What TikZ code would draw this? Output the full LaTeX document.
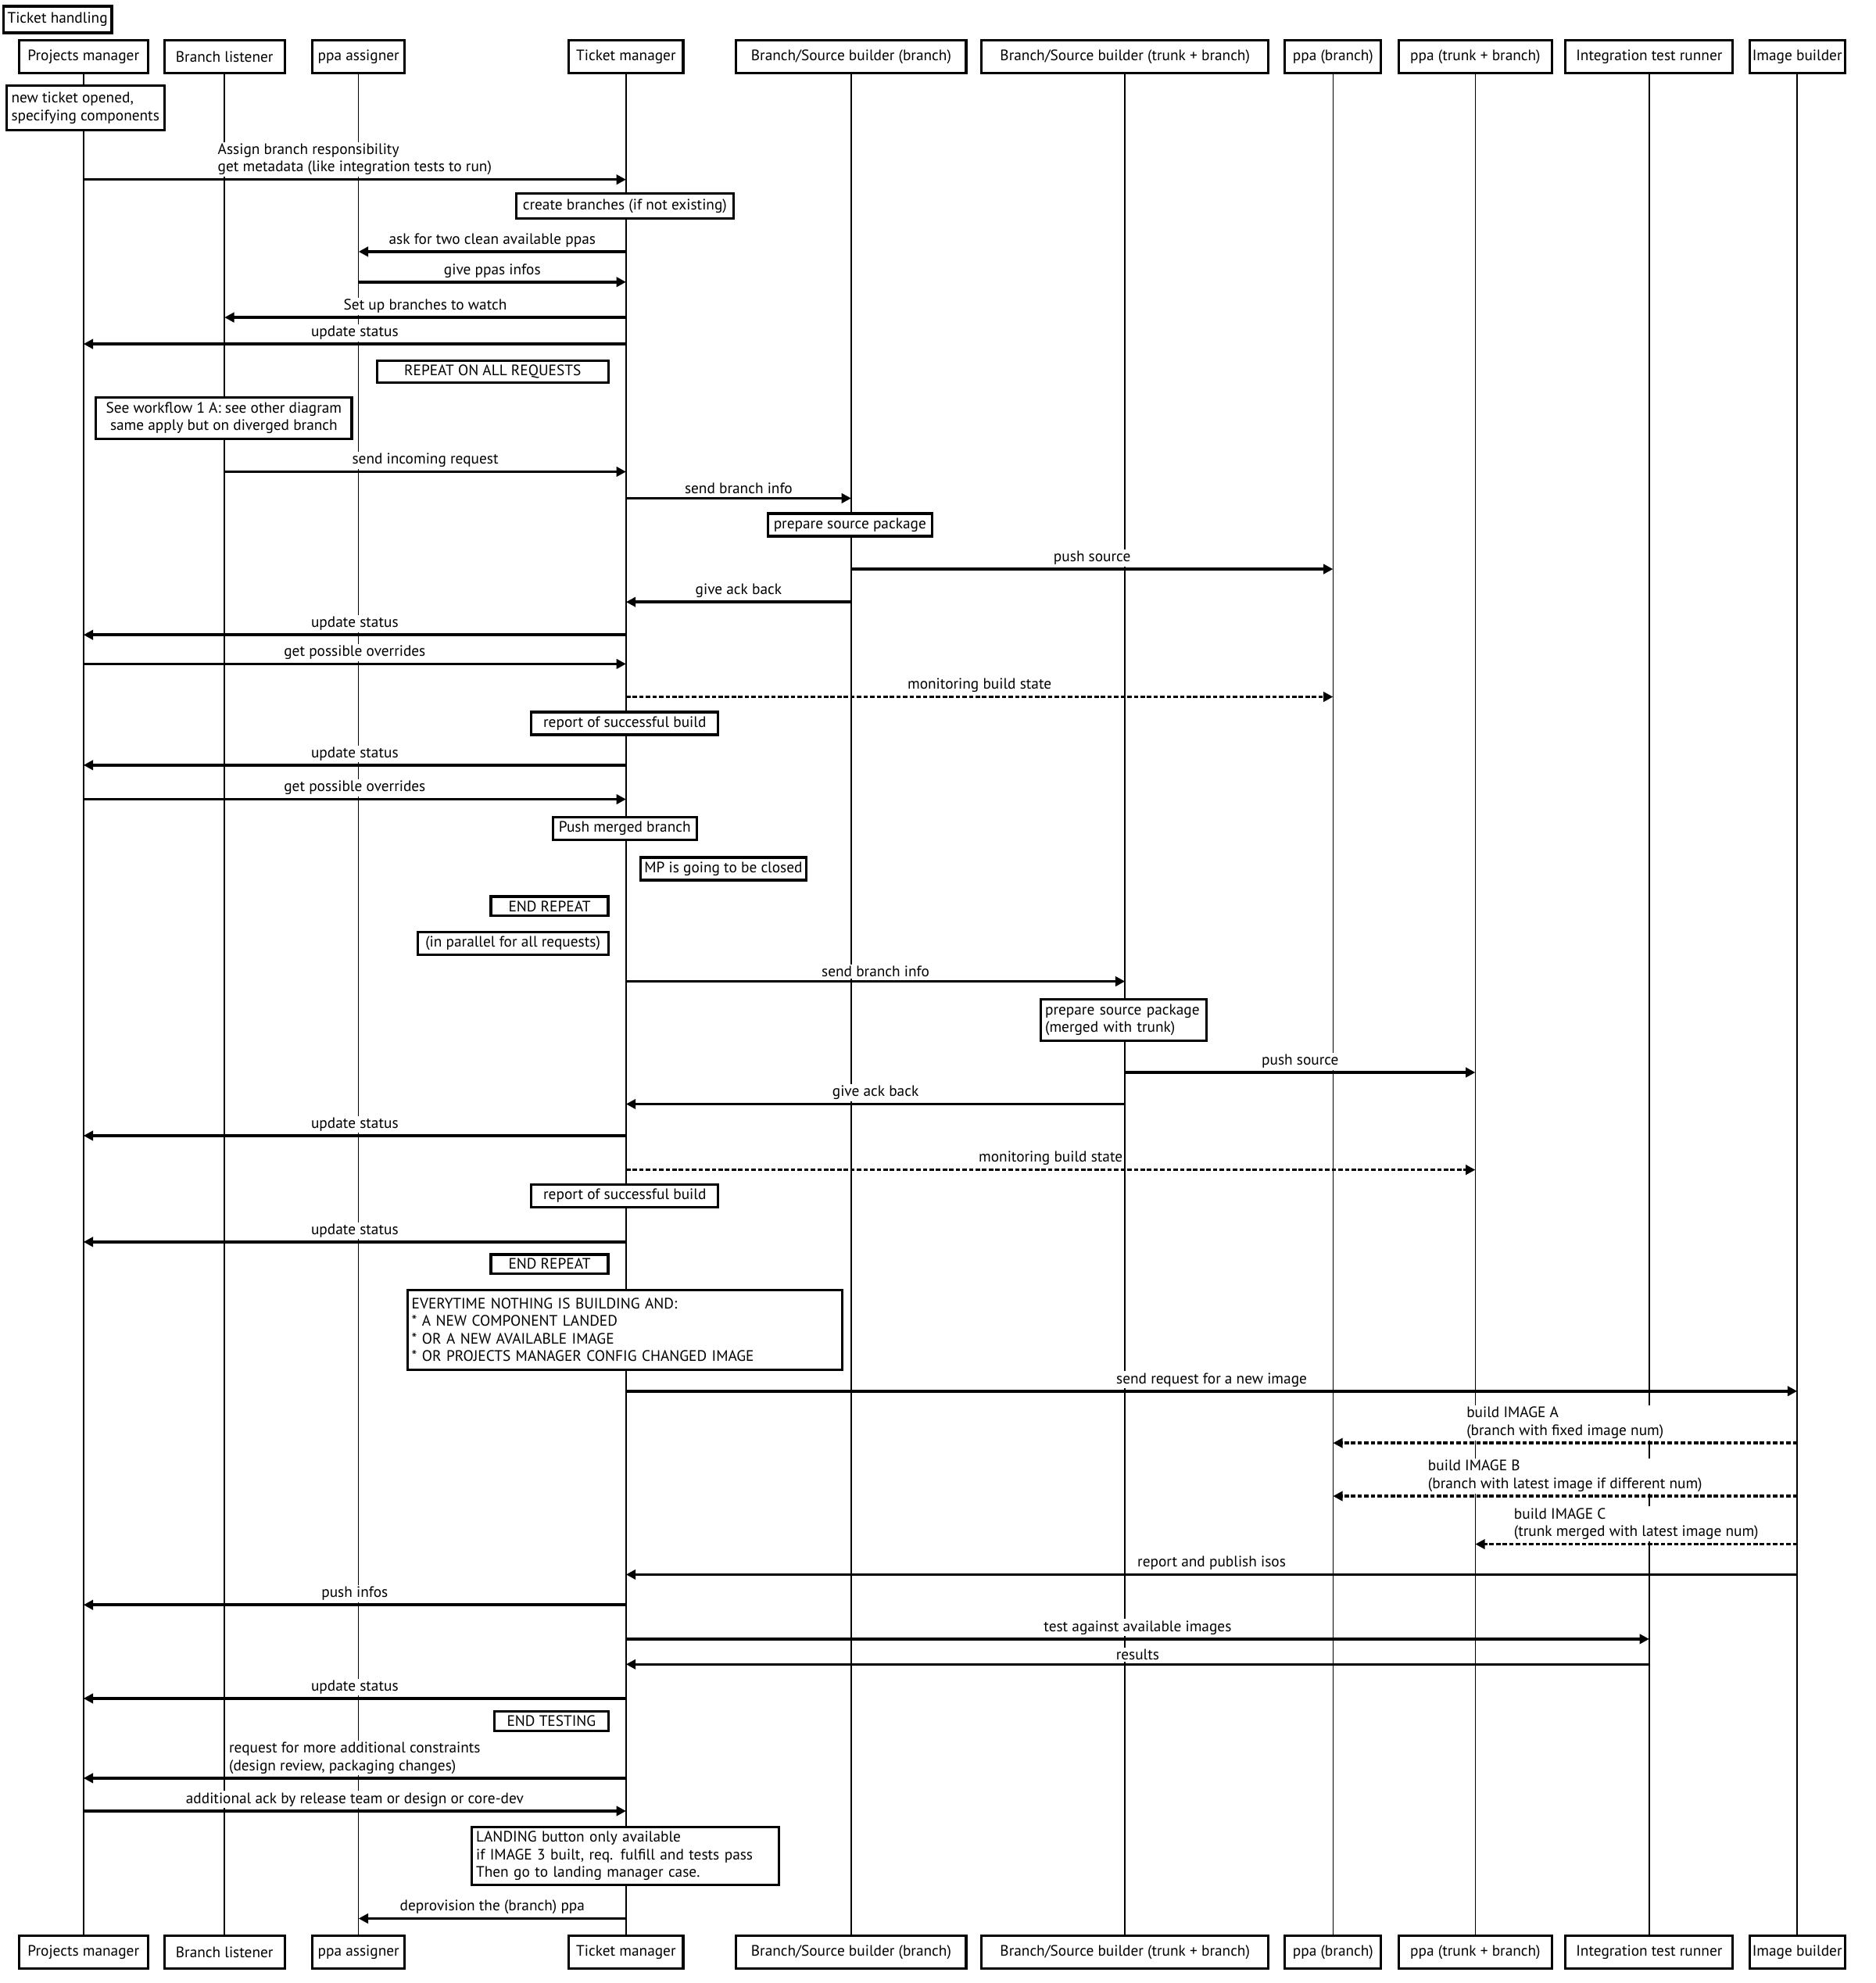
\documentclass[tikz,border=0pt]{standalone}
\usepackage{fontspec}
\setmainfont{PT Sans}
\usetikzlibrary{arrows.meta}

\begin{document}
\begin{tikzpicture}[
    x=0.16177mm, y=-0.16177mm,
    every node/.style={font=\fontsize{5.5}{6.4}\selectfont},
    actor/.style={draw, line width=0.9pt, fill=white, minimum height=0.42cm, inner sep=1pt},
    note/.style={draw, line width=0.9pt, fill=white, inner sep=1.5pt},
    life/.style={line width=0.45pt},
    msg/.style={-{Triangle[length=3.5pt,width=3.5pt]}, line width=1pt},
    dmsg/.style={msg, dash pattern=on 1.6pt off 0.8pt},
    lbl/.style={above=0.5pt, fill=white, inner sep=0.6pt, align=left}
]
    \useasboundingbox (0,0) rectangle (1483,1568);

    \node[note, minimum width=1.375cm, minimum height=0.34cm] (title) at (45.5,15.5) {Ticket handling};

    % participants, top row
    \node[actor, minimum width=1.65cm] (pm) at (66,45) {Projects manager};
    \node[actor, minimum width=1.54cm] (bl) at (177.5,45) {Branch listener};
    \node[actor, minimum width=1.18cm] (pa) at (283.5,45) {ppa assigner};
    \node[actor, minimum width=1.46cm] (tm) at (495,45) {Ticket manager};
    \node[actor, minimum width=2.94cm] (bsb) at (673,45) {Branch/Source builder (branch)};
    \node[actor, minimum width=3.67cm] (bst) at (889.5,45) {Branch/Source builder (trunk + branch)};
    \node[actor, minimum width=1.23cm] (ppb) at (1054,45) {ppa (branch)};
    \node[actor, minimum width=1.96cm] (ppt) at (1166.5,45) {ppa (trunk + branch)};
    \node[actor, minimum width=2.14cm] (itr) at (1304,45) {Integration test runner};
    \node[actor, minimum width=1.20cm] (ib) at (1421,45) {Image builder};

    % participants, bottom row
    \node[actor, minimum width=1.65cm] (pm2) at (66,1543.5) {Projects manager};
    \node[actor, minimum width=1.54cm] (bl2) at (177.5,1543.5) {Branch listener};
    \node[actor, minimum width=1.18cm] (pa2) at (283.5,1543.5) {ppa assigner};
    \node[actor, minimum width=1.46cm] (tm2) at (495,1543.5) {Ticket manager};
    \node[actor, minimum width=2.94cm] (bsb2) at (673,1543.5) {Branch/Source builder (branch)};
    \node[actor, minimum width=3.67cm] (bst2) at (889.5,1543.5) {Branch/Source builder (trunk + branch)};
    \node[actor, minimum width=1.23cm] (ppb2) at (1054,1543.5) {ppa (branch)};
    \node[actor, minimum width=1.96cm] (ppt2) at (1166.5,1543.5) {ppa (trunk + branch)};
    \node[actor, minimum width=2.14cm] (itr2) at (1304,1543.5) {Integration test runner};
    \node[actor, minimum width=1.20cm] (ib2) at (1421,1543.5) {Image builder};

    % lifelines
    \draw[life] (pm) -- (pm2);
    \draw[life] (bl) -- (bl2);
    \draw[life] (pa) -- (pa2);
    \draw[life] (tm) -- (tm2);
    \draw[life] (bsb) -- (bsb2);
    \draw[life] (bst) -- (bst2);
    \draw[life] (ppb) -- (ppb2);
    \draw[life] (ppt) -- (ppt2);
    \draw[life] (itr) -- (itr2);
    \draw[life] (ib) -- (ib2);

    % messages
    \draw[msg] (pm |- 0,142) -- node[lbl] {Assign branch responsibility\\get metadata (like integration tests to run)} (tm |- 0,142);
    \draw[msg] (tm |- 0,199) -- node[lbl] {ask for two clean available ppas} (pa |- 0,199);
    \draw[msg] (pa |- 0,223) -- node[lbl] {give ppas infos} (tm |- 0,223);
    \draw[msg] (tm |- 0,251) -- node[lbl] {Set up branches to watch} (bl |- 0,251);
    \draw[msg] (tm |- 0,272) -- node[lbl] {update status} (pm |- 0,272);
    \draw[msg] (bl |- 0,373) -- node[lbl] {send incoming request} (tm |- 0,373);
    \draw[msg] (tm |- 0,394) -- node[lbl] {send branch info} (bsb |- 0,394);
    \draw[msg] (bsb |- 0,450) -- node[lbl] {push source} (ppb |- 0,450);
    \draw[msg] (bsb |- 0,476) -- node[lbl] {give ack back} (tm |- 0,476);
    \draw[msg] (tm |- 0,502) -- node[lbl] {update status} (pm |- 0,502);
    \draw[msg] (pm |- 0,525) -- node[lbl] {get possible overrides} (tm |- 0,525);
    \draw[dmsg] (tm |- 0,551) -- node[lbl] {monitoring build state} (ppb |- 0,551);
    \draw[msg] (tm |- 0,605) -- node[lbl] {update status} (pm |- 0,605);
    \draw[msg] (pm |- 0,632) -- node[lbl] {get possible overrides} (tm |- 0,632);
    \draw[msg] (tm |- 0,776) -- node[lbl] {send branch info} (bst |- 0,776);
    \draw[msg] (bst |- 0,848) -- node[lbl] {push source} (ppt |- 0,848);
    \draw[msg] (bst |- 0,873) -- node[lbl] {give ack back} (tm |- 0,873);
    \draw[msg] (tm |- 0,898) -- node[lbl] {update status} (pm |- 0,898);
    \draw[dmsg] (tm |- 0,925) -- node[lbl] {monitoring build state} (ppt |- 0,925);
    \draw[msg] (tm |- 0,982) -- node[lbl] {update status} (pm |- 0,982);
    \draw[msg] (tm |- 0,1100) -- node[lbl] {send request for a new image} (ib |- 0,1100);
    \draw[dmsg] (ib |- 0,1141) -- node[lbl] {build IMAGE A\\(branch with fixed image num)} (ppb |- 0,1141);
    \draw[dmsg] (ib |- 0,1183) -- node[lbl] {build IMAGE B\\(branch with latest image if different num)} (ppb |- 0,1183);
    \draw[dmsg] (ib |- 0,1221) -- node[lbl] {build IMAGE C\\(trunk merged with latest image num)} (ppt |- 0,1221);
    \draw[msg] (ib |- 0,1245) -- node[lbl] {report and publish isos} (tm |- 0,1245);
    \draw[msg] (tm |- 0,1269) -- node[lbl] {push infos} (pm |- 0,1269);
    \draw[msg] (tm |- 0,1296) -- node[lbl] {test against available images} (itr |- 0,1296);
    \draw[msg] (itr |- 0,1316) -- node[lbl] {results} (tm |- 0,1316);
    \draw[msg] (tm |- 0,1343) -- node[lbl] {update status} (pm |- 0,1343);
    \draw[msg] (tm |- 0,1406) -- node[lbl] {request for more additional constraints\\(design review, packaging changes)} (pm |- 0,1406);
    \draw[msg] (pm |- 0,1432) -- node[lbl] {additional ack by release team or design or core-dev} (tm |- 0,1432);
    \draw[msg] (tm |- 0,1517) -- node[lbl] {deprovision the (branch) ppa} (pa |- 0,1517);

    % notes
    \node[note, minimum width=2.02cm, minimum height=0.57cm, align=left] (newticket) at (67.5,85.5) {new ticket opened,\\specifying components};
    \node[note, minimum width=2.78cm, minimum height=0.32cm] (create) at (494,163) {create branches (if not existing)};
    \node[note, minimum width=2.96cm, minimum height=0.26cm] (repeat1) at (389.5,294) {REPEAT ON ALL REQUESTS};
    \node[note, minimum width=3.27cm, minimum height=0.53cm, align=center] (workflow) at (177,330.5) {See workflow 1 A: see other diagram\\same apply but on diverged branch};
    \node[note, minimum width=2.10cm, minimum height=0.29cm] (prep1) at (672,415) {prepare source package};
    \node[note, minimum width=2.39cm, minimum height=0.29cm] (report1) at (494,572) {report of successful build};
    \node[note, minimum width=1.84cm, minimum height=0.29cm] (pushmerged) at (494,655) {Push merged branch};
    \node[note, minimum width=2.10cm, minimum height=0.29cm] (mpclosed) at (572,687) {MP is going to be closed};
    \node[note, minimum width=1.50cm, minimum height=0.24cm] (endrep1) at (434.5,716.5) {END REPEAT};
    \node[note, minimum width=2.44cm, minimum height=0.29cm] (parallel) at (405.5,746) {(in parallel for all requests)};
    \node[note, minimum width=2.12cm, minimum height=0.53cm, text width=2.01cm, align=left] (prep2) at (888.5,806.5) {prepare source package\\(merged with trunk)};
    \node[note, minimum width=2.39cm, minimum height=0.29cm] (report2) at (494,945.5) {report of successful build};
    \node[note, minimum width=1.50cm, minimum height=0.24cm] (endrep2) at (434.5,999.5) {END REPEAT};
    \node[note, minimum width=5.56cm, minimum height=1.02cm, text width=5.45cm, align=left] (everytime) at (494,1051.5) {EVERYTIME NOTHING IS BUILDING AND:\\{}* A NEW COMPONENT LANDED\\{}* OR A NEW AVAILABLE IMAGE\\{}* OR PROJECTS MANAGER CONFIG CHANGED IMAGE};
    \node[note, minimum width=1.46cm, minimum height=0.23cm] (endtest) at (436,1361) {END TESTING};
    \node[note, minimum width=3.93cm, minimum height=0.73cm, text width=3.82cm, align=left] (landing) at (494.5,1467.5) {LANDING button only available\\if IMAGE 3 built, req. fulfill and tests pass\\Then go to landing manager case.};
\end{tikzpicture}
\end{document}
